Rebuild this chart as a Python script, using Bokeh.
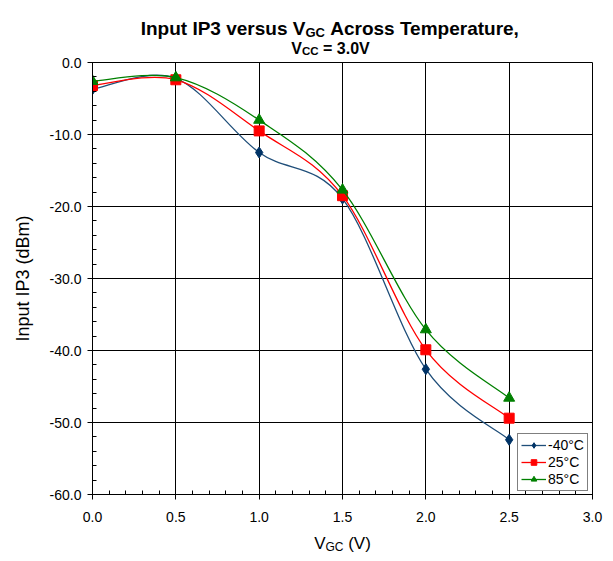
import numpy as np
from bokeh.plotting import figure
from bokeh.layouts import column
from bokeh.models import FixedTicker, PrintfTickFormatter, Legend, LegendItem, Range1d
from bokeh.core.properties import value
from bokeh.embed import file_html
from bokeh.resources import INLINE

# ---------------- data ----------------
vgc = [0.0, 0.5, 1.0, 1.5, 2.0, 2.5]
ip3_m40 = [-3.7, -2.2, -12.5, -18.9, -42.6, -52.4]
ip3_25 = [-3.2, -2.4, -9.5, -18.5, -39.9, -49.4]
ip3_85 = [-2.6, -2.1, -8.0, -17.7, -37.1, -46.6]
series_labels = ["-40°C", "25°C", "85°C"]
x_major = [0.0, 0.5, 1.0, 1.5, 2.0, 2.5, 3.0]
y_major = [-60, -50, -40, -30, -20, -10, 0]
title_1 = ("Input IP3 versus V", "GC", "Across Temperature,")
title_2 = ("V", "CC", "= 3.0V")
x_title = ("V", "GC", "(V)")
y_title = "Input IP3 (dBm)"

FONT = "Liberation Sans"

# Arial-compatible advance widths (per 1000 em), used only to lay out composed labels
REG = {' ': 278, '(': 333, ')': 333, '-': 333, '.': 278, '=': 584, ',': 278,
       'A': 667, 'B': 667, 'C': 722, 'G': 778, 'I': 278, 'P': 667, 'T': 611, 'V': 667,
       'a': 556, 'c': 500, 'd': 556, 'e': 556, 'm': 833, 'n': 556, 'o': 556, 'p': 556,
       'r': 333, 's': 500, 't': 278, 'u': 556, 'v': 500}
BOLD = {' ': 278, '(': 333, ')': 333, '-': 333, '.': 278, '=': 584, ',': 278,
        'A': 722, 'B': 722, 'C': 722, 'G': 778, 'I': 278, 'P': 667, 'T': 611, 'V': 667,
        'a': 556, 'c': 556, 'd': 611, 'e': 556, 'm': 889, 'n': 611, 'o': 611, 'p': 611,
        'r': 389, 's': 556, 't': 333, 'u': 611, 'v': 556}


def tw(s, size, bold=False):
    t = BOLD if bold else REG
    return sum(t.get(c, 556) for c in s) * size / 1000.0


def smooth_segments(xs, ys):
    x = np.asarray(xs, float)
    y = np.asarray(ys, float)
    n = len(x)
    xp = np.concatenate([[x[0]], x, [x[-1]]])
    yp = np.concatenate([[y[0]], y, [y[-1]]])
    cx0 = x[:-1] + (xp[2:n + 1] - xp[0:n - 1]) / 6.0
    cy0 = y[:-1] + (yp[2:n + 1] - yp[0:n - 1]) / 6.0
    cx1 = x[1:] - (xp[3:n + 2] - xp[1:n]) / 6.0
    cy1 = y[1:] - (yp[3:n + 2] - yp[1:n]) / 6.0
    return dict(x0=x[:-1], y0=y[:-1], x1=x[1:], y1=y[1:], cx0=cx0, cy0=cy0, cx1=cx1, cy1=cy1)


W = 608
LEFT = 92
FRAME_W, FRAME_H = 500, 432
RIGHT = W - LEFT - FRAME_W
TITLE_H = 55
MAIN_TOP, MAIN_BOTTOM = 7, 30
MAIN_H = MAIN_TOP + FRAME_H + MAIN_BOTTOM
XLAB_H = 34
TEXT_SHIFT_T = 7   # empirical correction of the text strip baseline
TEXT_SHIFT_X = 5


def text_strip(height):
    # frame aligned with the main plot frame; x data == canvas pixel, y data == pixels from strip bottom
    f = figure(width=W, height=height, output_backend="svg", toolbar_location=None, title=None,
               x_range=Range1d(LEFT, LEFT + FRAME_W), y_range=Range1d(0, height),
               min_border_left=LEFT, min_border_right=RIGHT,
               min_border_top=0, min_border_bottom=0)
    f.frame_width = FRAME_W
    f.frame_height = height
    f.axis.visible = False
    f.grid.visible = False
    f.outline_line_color = None
    f.border_fill_color = "white"
    f.background_fill_color = "white"
    return f


def composed(f, parts, cx, y, size, sub_size, bold, sub_drop):
    a, b, c = parts
    wa = tw(a, size, bold)
    wb = tw(b, sub_size, bold)
    wsp = tw(" ", size, bold)
    wc = tw(c, size, bold)
    left = cx - (wa + wb + wsp + wc) / 2.0
    style = "bold" if bold else "normal"
    for txt, xo, fs, yo in ((a, left, size, 0), (b, left + wa, sub_size, -sub_drop),
                            (c, left + wa + wb + wsp, size, 0)):
        f.text(x=[xo], y=[y + yo], text=[txt], text_font=value(FONT),
               text_font_size=value(f"{fs}px"), text_font_style=style,
               text_align="left", text_baseline="alphabetic", text_color="black")


# ---------------- title strip ----------------
tfig = text_strip(TITLE_H)
composed(tfig, title_1, 330, TITLE_H - 35 + TEXT_SHIFT_T, 19, 13, True, 4)
composed(tfig, title_2, 330, TITLE_H - 54.5 + TEXT_SHIFT_T, 16, 11.5, True, 2.5)

# ---------------- main plot ----------------
p = figure(width=W, height=MAIN_H, output_backend="svg", toolbar_location=None, title=None,
           x_range=Range1d(0, 3), y_range=Range1d(-60, 0),
           min_border_left=LEFT, min_border_right=RIGHT,
           min_border_top=MAIN_TOP, min_border_bottom=MAIN_BOTTOM)
p.frame_width = FRAME_W
p.frame_height = FRAME_H
p.outline_line_color = "black"
p.outline_line_width = 1
p.background_fill_color = "white"
p.border_fill_color = "white"

for ax in (p.xaxis[0], p.yaxis[0]):
    ax.axis_line_color = "black"
    ax.major_tick_line_color = "black"
    ax.minor_tick_line_color = "black"
    ax.major_tick_in = 5
    ax.major_tick_out = 5
    ax.minor_tick_in = 4
    ax.minor_tick_out = 0
    ax.major_label_text_font = FONT
    ax.major_label_text_font_size = "14px"
    ax.major_label_text_color = "black"
    ax.formatter = PrintfTickFormatter(format="%.1f")

p.xaxis.ticker = FixedTicker(ticks=x_major, minor_ticks=list(np.round(np.arange(0, 3.0001, 0.1), 2)))
p.yaxis.ticker = FixedTicker(ticks=y_major, minor_ticks=list(np.arange(-60, 0.001, 2.0)))
p.xaxis.major_label_standoff = 12
p.yaxis.major_label_standoff = 6

p.yaxis.axis_label = y_title
p.yaxis.axis_label_text_font = FONT
p.yaxis.axis_label_text_font_size = "18px"
p.yaxis.axis_label_text_font_style = "normal"
p.yaxis.axis_label_text_color = "black"
p.yaxis.axis_label_standoff = 14

p.xgrid.grid_line_color = "black"
p.ygrid.grid_line_color = "black"
p.xgrid.grid_line_width = 1
p.ygrid.grid_line_width = 1

colors_line = ["#1F4E79", "#FF0000", "#008000"]
colors_mark = ["#003366", "#FF0000", "#008000"]
markers = ["diamond", "square", "triangle"]
sizes = [11, 10, 11]
series = [ip3_m40, ip3_25, ip3_85]

items = []
for ys, lab, cl, cm, mk, sz in zip(series, series_labels, colors_line, colors_mark, markers, sizes):
    seg = smooth_segments(vgc, ys)
    b = p.bezier(x0="x0", y0="y0", x1="x1", y1="y1", cx0="cx0", cy0="cy0", cx1="cx1", cy1="cy1",
                 source=seg, line_color=cl, line_width=1.3)
    s = p.scatter(vgc, ys, marker=mk, size=sz, fill_color=cm, line_color=cm)
    items.append(LegendItem(label=lab, renderers=[b, s]))

legend = Legend(items=items, location=(425, 3), orientation="vertical")
legend.border_line_color = "black"
legend.border_line_width = 1
legend.background_fill_color = "white"
legend.background_fill_alpha = 1
legend.label_text_font = FONT
legend.label_text_font_size = "14px"
legend.label_text_color = "black"
legend.label_height = 14
legend.glyph_height = 14
legend.glyph_width = 25
legend.label_standoff = 2
legend.spacing = 1
legend.padding = 3
legend.margin = 0
p.add_layout(legend)

# ---------------- x-axis title strip ----------------
xfig = text_strip(XLAB_H)
baseline_in_strip = 548 - (TITLE_H + MAIN_H)
composed(xfig, x_title, 342, XLAB_H - baseline_in_strip + TEXT_SHIFT_X, 17, 12, False, 3)

layout = column(tfig, p, xfig, spacing=0)
open("out.html", "w").write(file_html(layout, INLINE))
